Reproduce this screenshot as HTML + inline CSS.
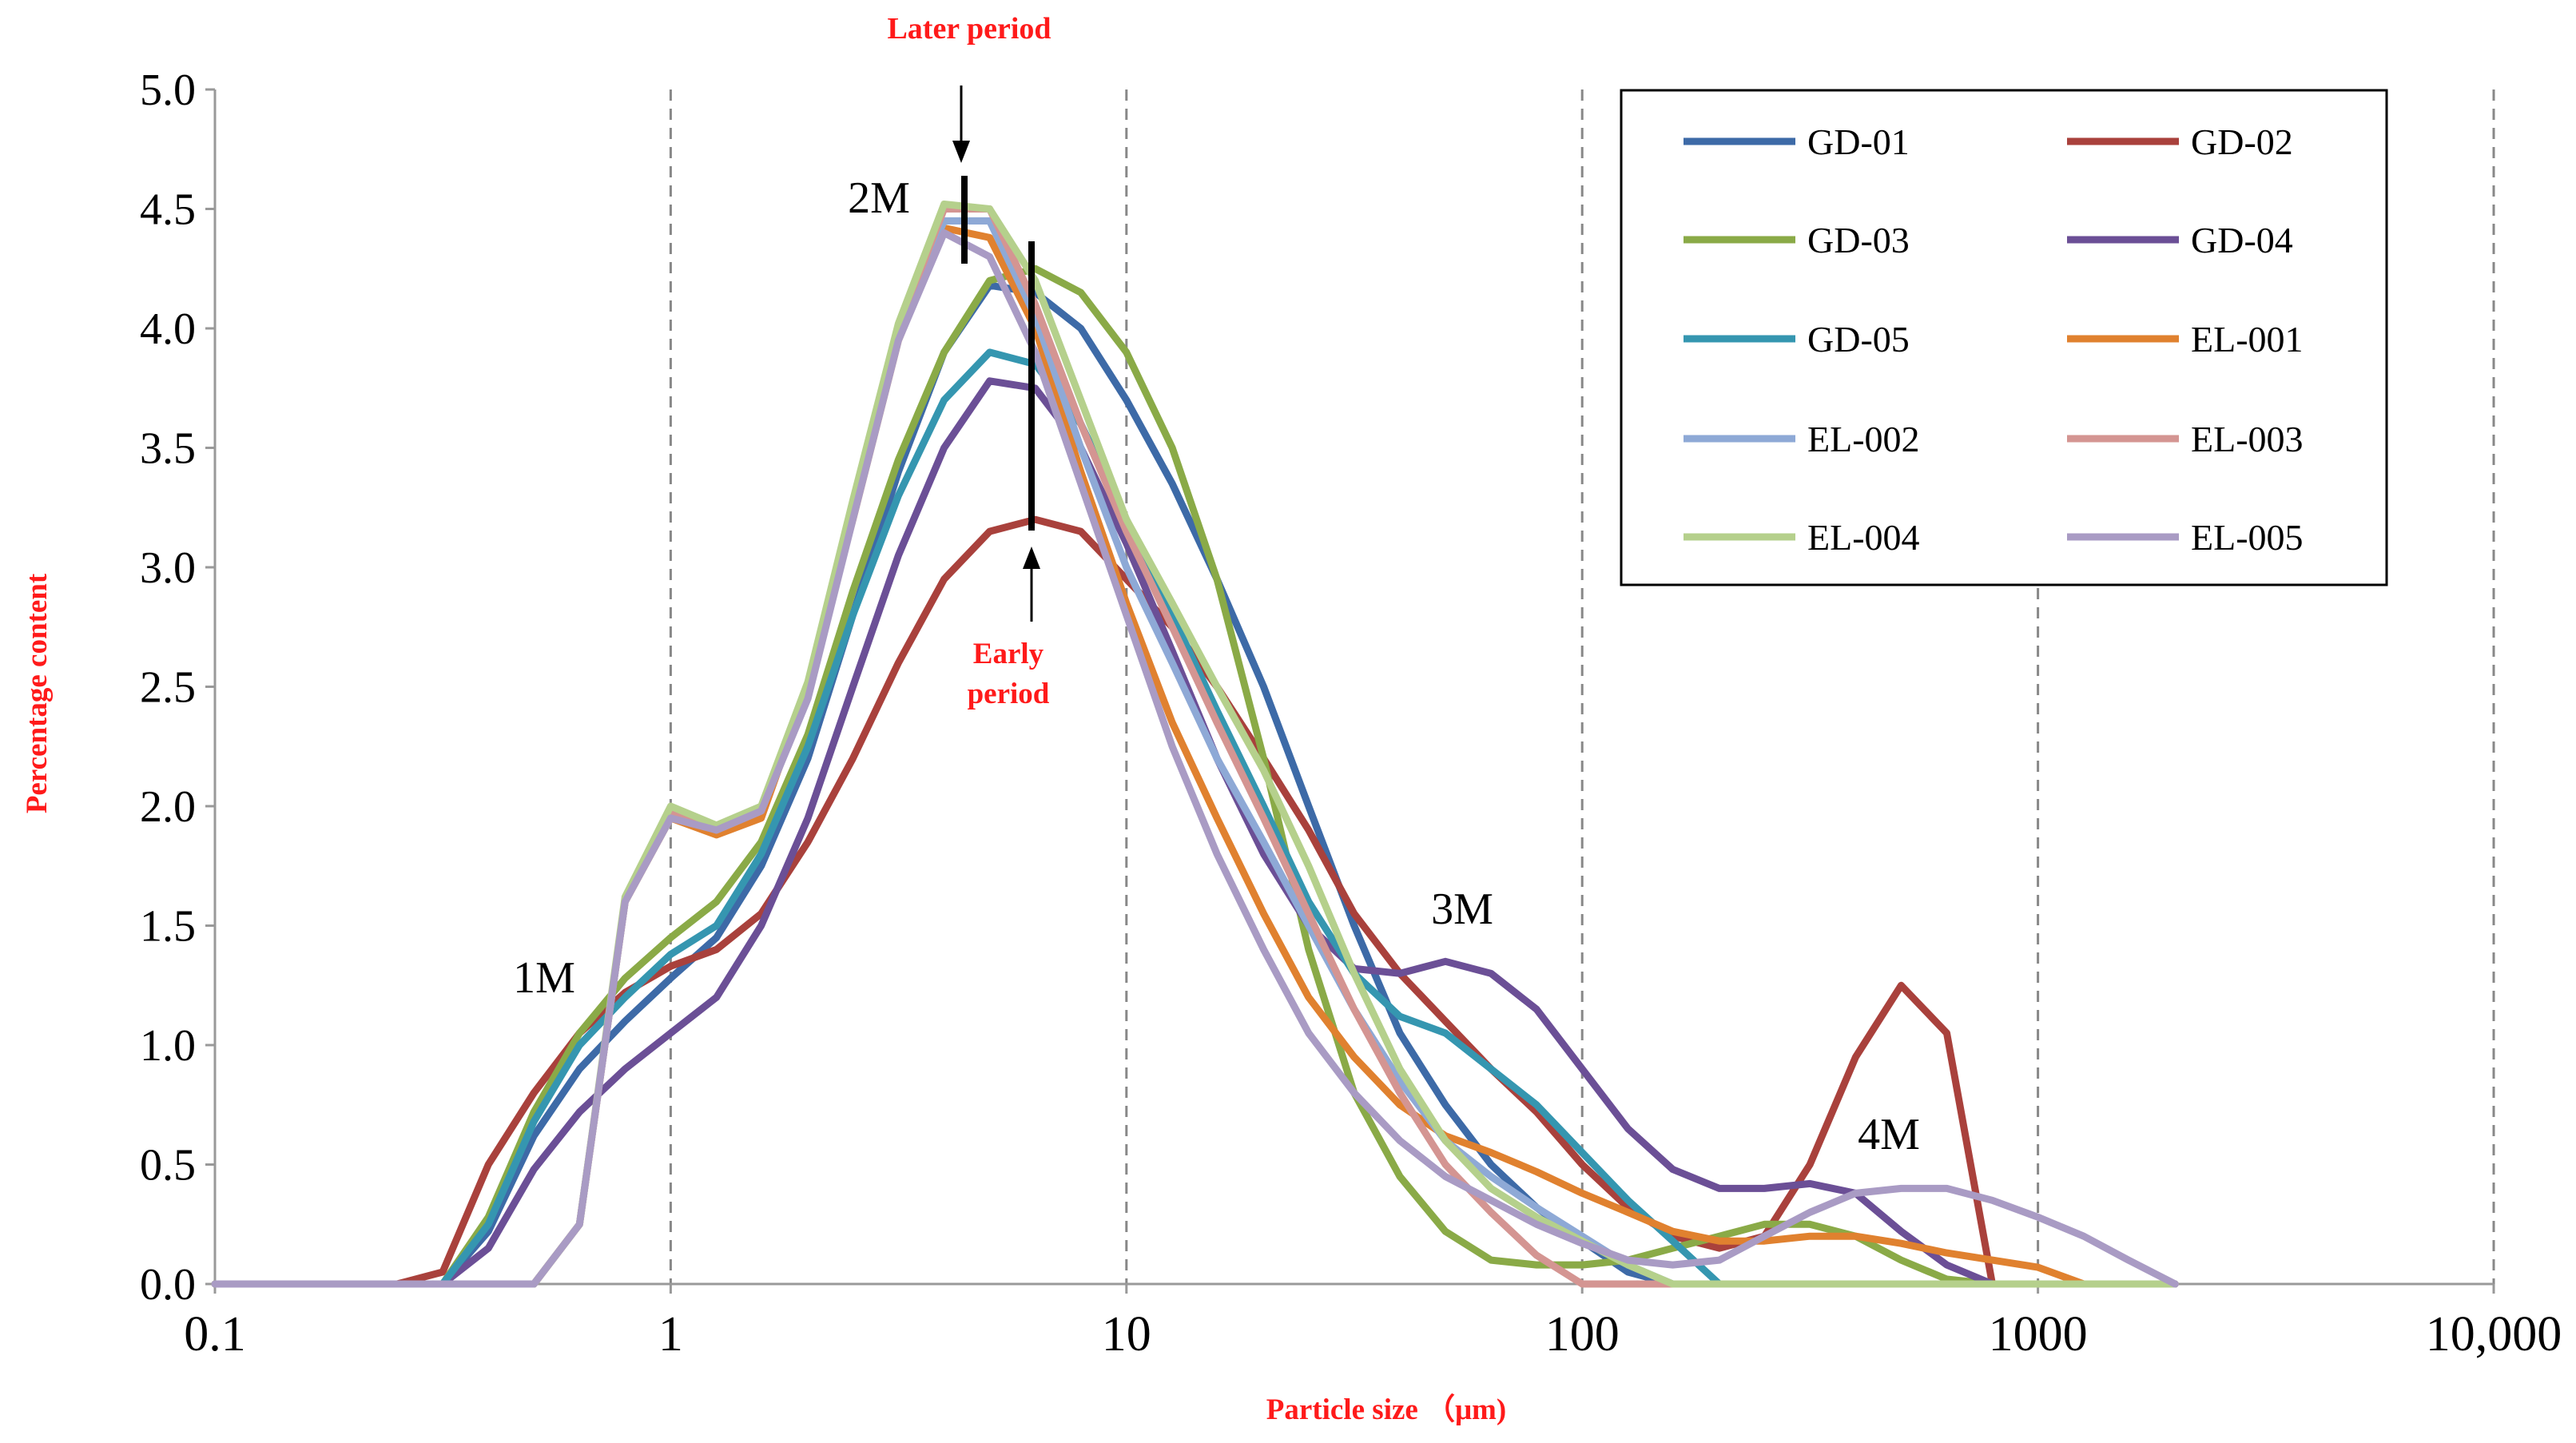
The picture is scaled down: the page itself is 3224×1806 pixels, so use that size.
<!DOCTYPE html>
<html><head><meta charset="utf-8">
<style>
html,body{margin:0;padding:0;background:#fff;}
svg{display:block;}
text{font-family:"Liberation Serif",serif;}
</style></head>
<body>
<svg id="chart" width="3224" height="1806" viewBox="0 0 3224 1806" xmlns="http://www.w3.org/2000/svg">
<g id="grid"></g>
<g id="axes"></g>
<g id="series"></g>
<g id="legend"></g>
<g>
  <text x="1213" y="48" font-size="38" font-weight="bold" fill="#ff1a1a" text-anchor="middle">Later period</text>
  <line x1="1203" y1="107" x2="1203" y2="180" stroke="#000" stroke-width="3"/>
  <polygon points="1192,176 1214,176 1203,204" fill="#000"/>
  <line x1="1207" y1="220" x2="1207" y2="330" stroke="#000" stroke-width="8"/>
  <line x1="1291" y1="302" x2="1291" y2="664" stroke="#000" stroke-width="8"/>
  <line x1="1291" y1="778" x2="1291" y2="708" stroke="#000" stroke-width="3"/>
  <polygon points="1280,712 1302,712 1291,684" fill="#000"/>
  <text x="1262" y="830" font-size="37" font-weight="bold" fill="#ff1a1a" text-anchor="middle">Early</text>
  <text x="1262" y="880" font-size="37" font-weight="bold" fill="#ff1a1a" text-anchor="middle">period</text>
  <text x="681" y="1242" font-size="56" text-anchor="middle">1M</text>
  <text x="1100" y="266" font-size="56" text-anchor="middle">2M</text>
  <text x="1830" y="1156" font-size="56" text-anchor="middle">3M</text>
  <text x="2364" y="1438" font-size="56" text-anchor="middle">4M</text>
  <text x="1735" y="1776" font-size="37" font-weight="bold" fill="#ff1a1a" text-anchor="middle">Particle size （μm)</text>
  <text x="0" y="0" font-size="37" font-weight="bold" fill="#ff1a1a" text-anchor="middle" transform="translate(58,868) rotate(-90)">Percentage content</text>
</g>
</svg>
<script>
const sizes = [0.1,0.126,0.158,0.2,0.251,0.316,0.398,0.501,0.631,0.794,1,1.26,1.58,2,2.51,3.16,3.98,5.01,6.31,7.94,10,12.6,15.8,20,25.1,31.6,39.8,50.1,63.1,79.4,100,126,158,200,251,316,398,501,631,794,1000,1260,1580,2000];
const seriesNames = ["GD-01","GD-02","GD-03","GD-04","GD-05","EL-001","EL-002","EL-003","EL-004","EL-005"];
const gd01 = [0,0,0,0,0,0,0.22,0.62,0.9,1.1,1.28,1.45,1.75,2.2,2.8,3.4,3.9,4.18,4.15,4.0,3.7,3.35,2.95,2.5,2.0,1.5,1.05,0.75,0.5,0.32,0.18,0.05,0,0,0,0,0,0,0,0,0,0,0,0];
const gd02 = [0,0,0,0,0,0.05,0.5,0.8,1.05,1.22,1.33,1.4,1.55,1.85,2.2,2.6,2.95,3.15,3.2,3.15,2.95,2.75,2.5,2.2,1.9,1.55,1.3,1.1,0.9,0.72,0.5,0.32,0.2,0.15,0.2,0.5,0.95,1.25,1.05,0,0,0,0,0];
const gd03 = [0,0,0,0,0,0,0.28,0.72,1.05,1.28,1.45,1.6,1.85,2.3,2.9,3.45,3.9,4.2,4.25,4.15,3.9,3.5,2.95,2.2,1.4,0.8,0.45,0.22,0.1,0.08,0.08,0.1,0.15,0.2,0.25,0.25,0.2,0.1,0.02,0,0,0,0,0];
const gd04 = [0,0,0,0,0,0,0.15,0.48,0.72,0.9,1.05,1.2,1.5,1.95,2.5,3.05,3.5,3.78,3.75,3.5,3.1,2.65,2.2,1.8,1.5,1.32,1.3,1.35,1.3,1.15,0.9,0.65,0.48,0.4,0.4,0.42,0.38,0.22,0.08,0,0,0,0,0];
const gd05 = [0,0,0,0,0,0,0.25,0.68,1.0,1.2,1.38,1.5,1.8,2.25,2.8,3.3,3.7,3.9,3.85,3.6,3.2,2.8,2.4,2.0,1.6,1.3,1.12,1.05,0.9,0.75,0.55,0.35,0.18,0,0,0,0,0,0,0,0,0,0,0];
const el001 = [0,0,0,0,0,0,0,0,0.25,1.6,1.95,1.88,1.95,2.5,3.2,3.95,4.42,4.38,4.0,3.4,2.85,2.35,1.95,1.55,1.2,0.95,0.75,0.62,0.55,0.47,0.38,0.3,0.22,0.18,0.18,0.2,0.2,0.17,0.13,0.1,0.07,0,0,0];
const el002 = [0,0,0,0,0,0,0,0,0.25,1.6,1.97,1.9,1.98,2.5,3.25,4.0,4.45,4.45,4.05,3.5,3.0,2.6,2.2,1.85,1.5,1.15,0.85,0.6,0.45,0.32,0.2,0.08,0,0,0,0,0,0,0,0,0,0,0,0];
const el003 = [0,0,0,0,0,0,0,0,0.25,1.6,1.97,1.9,1.98,2.5,3.25,4.0,4.5,4.5,4.1,3.6,3.15,2.75,2.35,1.95,1.55,1.15,0.8,0.5,0.3,0.12,0,0,0,0,0,0,0,0,0,0,0,0,0,0];
const el004 = [0,0,0,0,0,0,0,0,0.25,1.62,2.0,1.92,2.0,2.52,3.28,4.02,4.52,4.5,4.2,3.7,3.2,2.85,2.5,2.15,1.75,1.3,0.9,0.6,0.4,0.28,0.18,0.08,0,0,0,0,0,0,0,0,0,0,0,0];
const el005 = [0,0,0,0,0,0,0,0,0.25,1.6,1.95,1.9,1.98,2.45,3.2,3.95,4.4,4.3,3.9,3.35,2.8,2.25,1.8,1.4,1.05,0.8,0.6,0.45,0.35,0.25,0.17,0.1,0.08,0.1,0.2,0.3,0.38,0.4,0.4,0.35,0.28,0.2,0.1,0];
const seriesValues = [gd01,gd02,gd03,gd04,gd05,el001,el002,el003,el004,el005];
const colors = ["#3d6aa7","#a9413c","#8aaa47","#6b4f96","#3596b0","#e0812f","#8ea9d6","#d49592","#b5d08c","#a99bc4"];
const yTicks = ["0.0","0.5","1.0","1.5","2.0","2.5","3.0","3.5","4.0","4.5","5.0"];
const xTicks = [0.1,1,10,100,1000,10000];
const xTickLabels = ["0.1","1","10","100","1000","10,000"];

const NS="http://www.w3.org/2000/svg";
const X0=269, DEC=570.4, Y0=1607, Y5=112;
function xs(v){return X0+(Math.log10(v)+1)*DEC;}
function ys(v){return Y0-(v/5)*(Y0-Y5);}
function mk(tag,attrs,parent){const e=document.createElementNS(NS,tag);for(const k in attrs)e.setAttribute(k,attrs[k]);parent.appendChild(e);return e;}
const grid=document.getElementById('grid'),axes=document.getElementById('axes'),ser=document.getElementById('series'),leg=document.getElementById('legend');

xTicks.forEach((t,i)=>{
  const x=xs(t);
  if(i>0){
    const g=mk('line',{x1:x,y1:Y5,x2:x,y2:Y0,stroke:'#888','stroke-width':3,'stroke-dasharray':'14,10'},grid);
    
    
  }
  const tk=mk('line',{x1:x,y1:Y0,x2:x,y2:Y0+12,stroke:'#999','stroke-width':3},axes);
  
  
  const lb=mk('text',{x:x,y:1690,'font-size':62,'text-anchor':'middle'},axes);
  lb.textContent=xTickLabels[i];
  
  
});
yTicks.forEach((t)=>{
  const y=ys(parseFloat(t));
  const tk=mk('line',{x1:X0-12,y1:y,x2:X0,y2:y,stroke:'#999','stroke-width':3},axes);
  
  
  const lb=mk('text',{x:X0-24,y:y+19,'font-size':56,'text-anchor':'end'},axes);
  lb.textContent=t;
  
  
});
const ya=mk('line',{x1:X0,y1:Y5,x2:X0,y2:Y0,stroke:'#999','stroke-width':3},axes);


const xa=mk('line',{x1:X0,y1:Y0,x2:xs(10000),y2:Y0,stroke:'#999','stroke-width':3},axes);



seriesValues.forEach((vals,si)=>{
  let d='';
  vals.forEach((v,i)=>{d+=(i?'L':'M')+xs(sizes[i]).toFixed(1)+','+ys(v).toFixed(1);});
  const p=mk('path',{d:d,fill:'none',stroke:colors[si],'stroke-width':9,'stroke-linejoin':'round','stroke-linecap':'round'},ser);
  
  
});

const box=mk('rect',{x:2029,y:113,width:958,height:619,fill:'#fff',stroke:'#000','stroke-width':3},leg);


const rowsY=[177,300,424,549,672];
seriesNames.forEach((n,i)=>{
  const col=i%2,row=Math.floor(i/2);
  const lx=col?2587:2107, y=rowsY[row];
  const ln=mk('line',{x1:lx,y1:y,x2:lx+140,y2:y,stroke:colors[i],'stroke-width':9},leg);
  
  
  const t=mk('text',{x:lx+155,y:y+16,'font-size':46},leg);
  t.textContent=n;
  
  
});
</script>
</body></html>
